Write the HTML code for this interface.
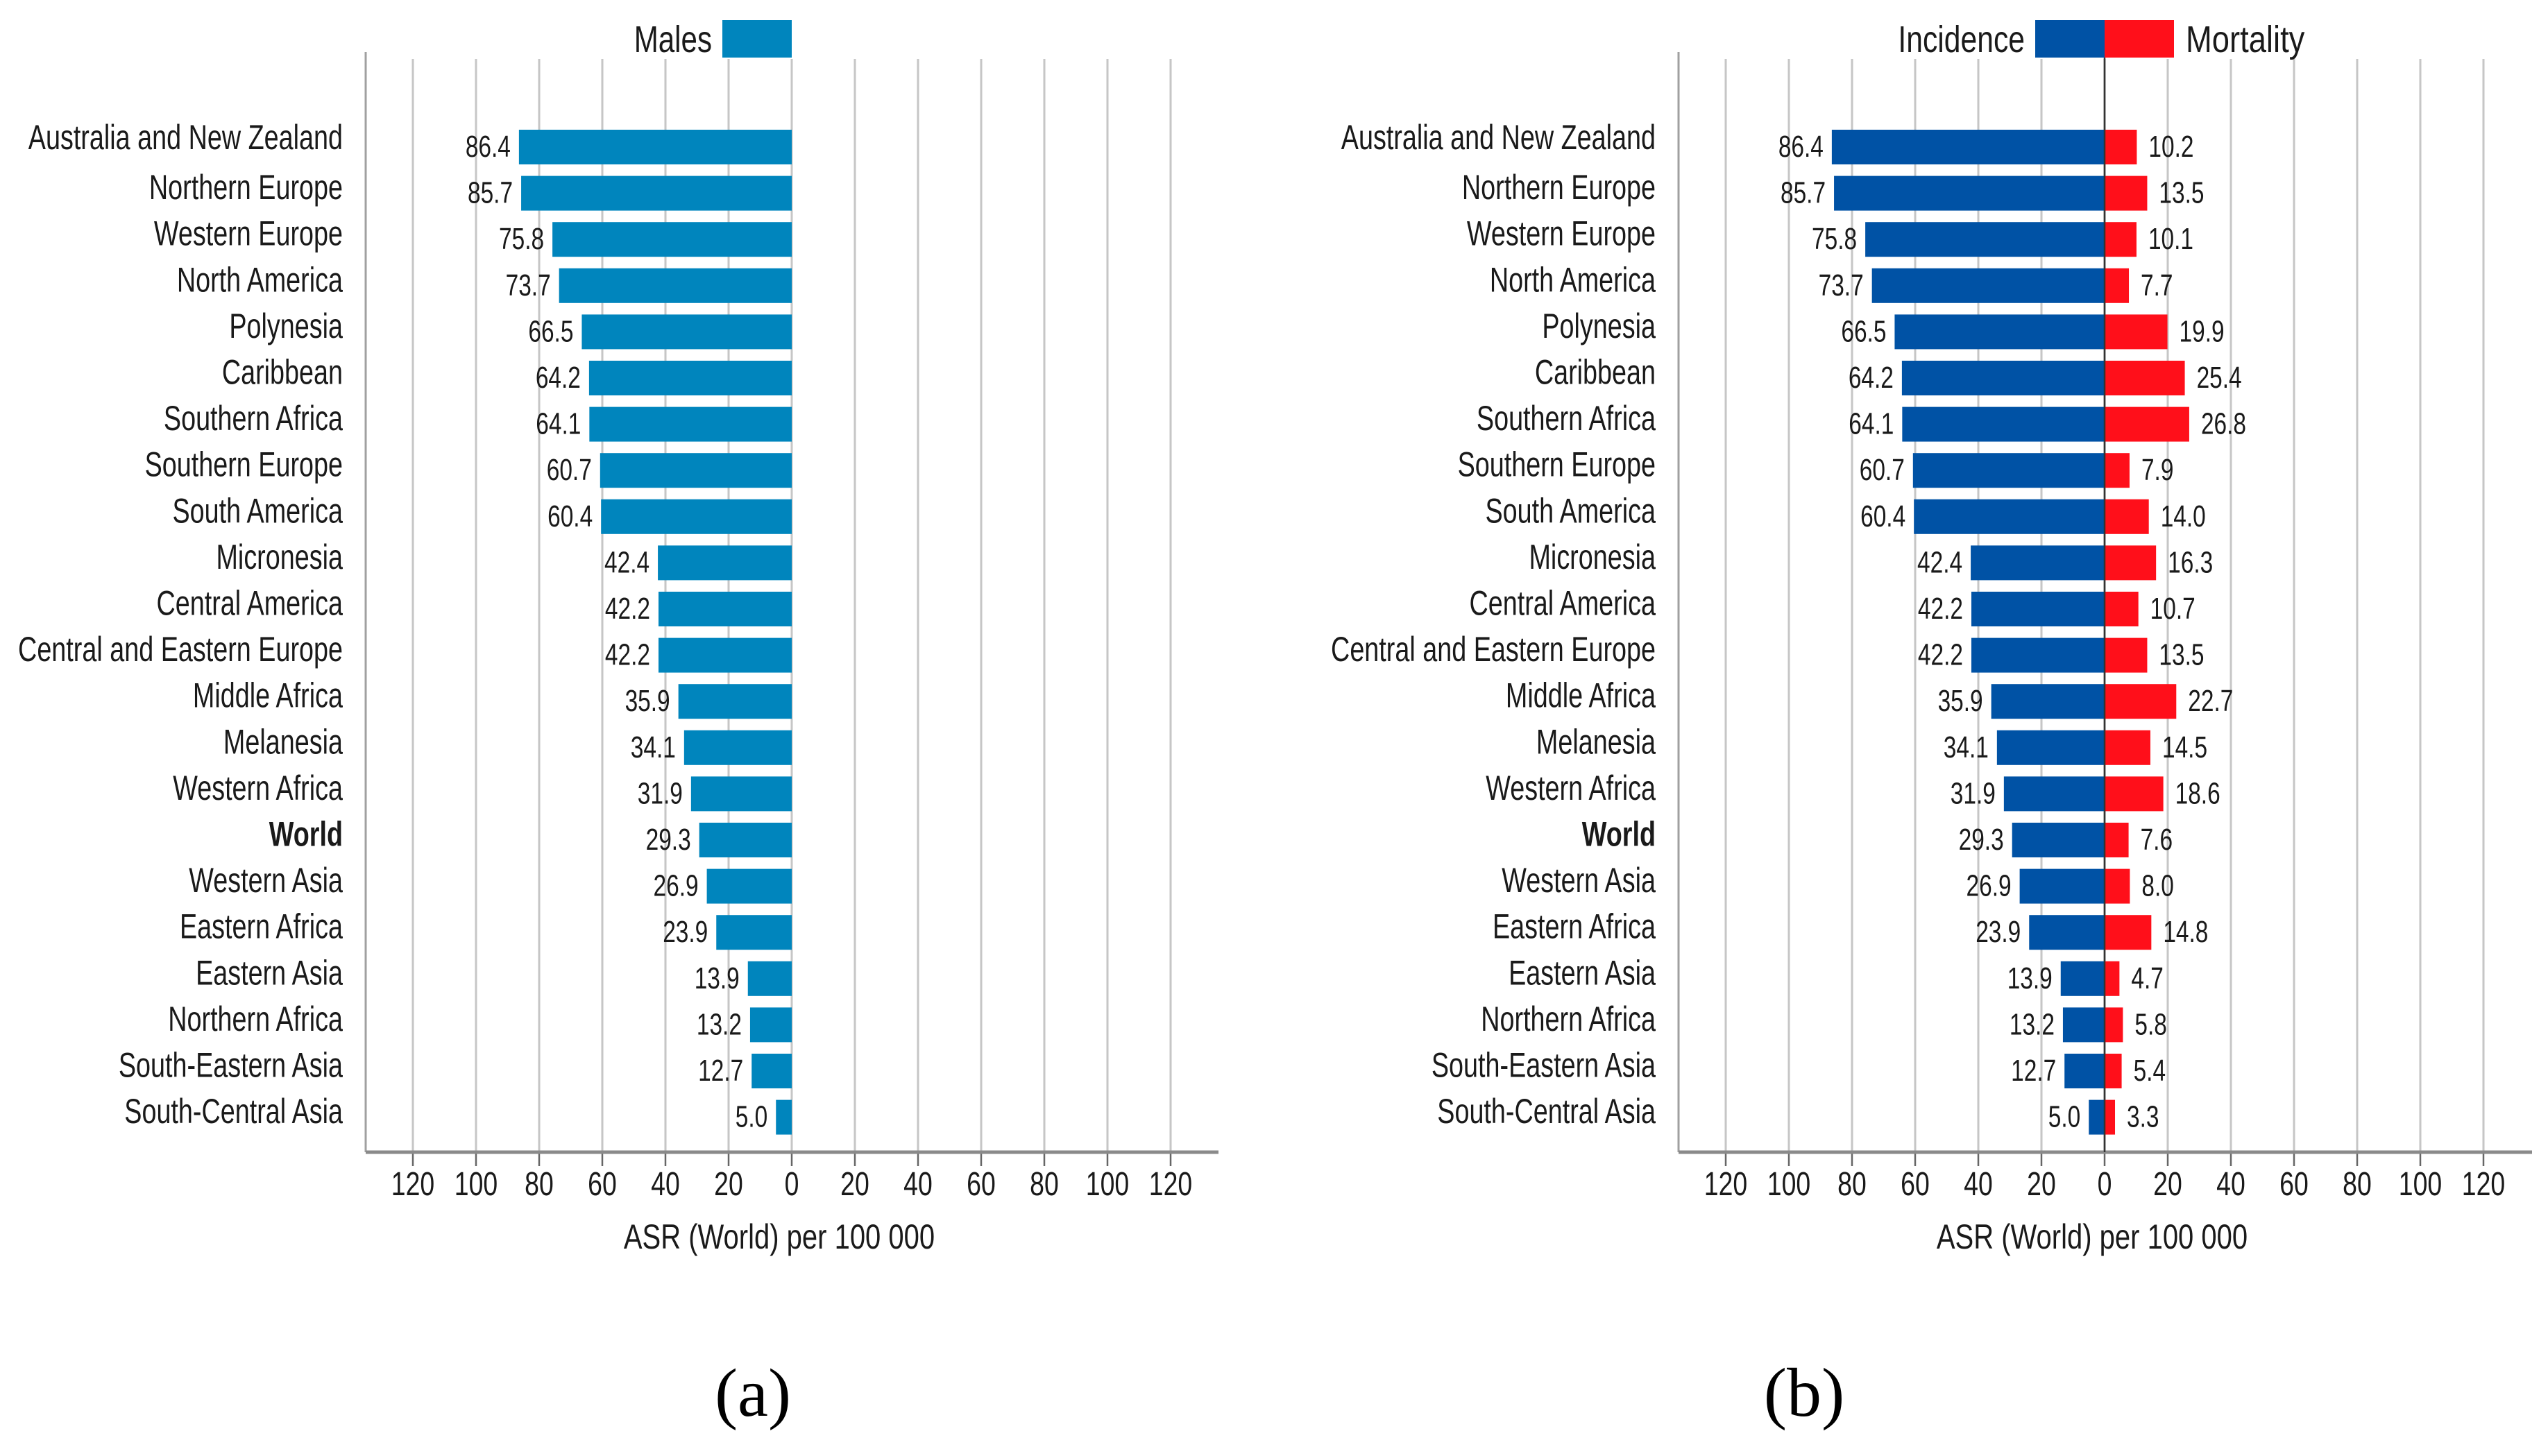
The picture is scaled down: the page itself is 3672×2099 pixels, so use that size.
<!DOCTYPE html>
<html lang="en">
<head>
<meta charset="utf-8">
<title>Age-standardized rates by region</title>
<style>
html,body{margin:0;padding:0;background:#fff;width:3672px;height:2099px;overflow:hidden}
svg{display:block}
text{font-family:"Liberation Sans",sans-serif;fill:#1a1a1a}
</style>
</head>
<body>
<svg id="figure" xmlns="http://www.w3.org/2000/svg" width="3672" height="2099" viewBox="0 0 3672 2099">
<rect x="0" y="0" width="3672" height="2099" fill="#ffffff"/>
<g id="panel-a"></g>
<g id="panel-b"></g>
</svg>
<script>
const categories = ["Australia and New Zealand","Northern Europe","Western Europe","North America","Polynesia","Caribbean","Southern Africa","Southern Europe","South America","Micronesia","Central America","Central and Eastern Europe","Middle Africa","Melanesia","Western Africa","World","Western Asia","Eastern Africa","Eastern Asia","Northern Africa","South-Eastern Asia","South-Central Asia"];
const malesValues = [86.4,85.7,75.8,73.7,66.5,64.2,64.1,60.7,60.4,42.4,42.2,42.2,35.9,34.1,31.9,29.3,26.9,23.9,13.9,13.2,12.7,5.0];
const incidenceValues = [86.4,85.7,75.8,73.7,66.5,64.2,64.1,60.7,60.4,42.4,42.2,42.2,35.9,34.1,31.9,29.3,26.9,23.9,13.9,13.2,12.7,5.0];
const mortalityValues = [10.2,13.5,10.1,7.7,19.9,25.4,26.8,7.9,14.0,16.3,10.7,13.5,22.7,14.5,18.6,7.6,8.0,14.8,4.7,5.8,5.4,3.3];
const tickValues = [120,100,80,60,40,20,0,20,40,60,80,100,120];
const tickSides = [-1,-1,-1,-1,-1,-1,0,1,1,1,1,1,1];
const xAxisTitle = "ASR (World) per 100 000";

const NS = "http://www.w3.org/2000/svg";
const UNIT = 4.55;
const ROW_H = 66.6;
const FIRST_Y = 212;
const BAR_H = 50;
const AXIS_Y = 1661;
const COLOR_MALES = "#0085bd";
const COLOR_INC = "#0052a5";
const COLOR_MORT = "#ff0f1a";

function rowY(i){ return FIRST_Y + ROW_H * i; }

function el(parent, tag){
  const n = document.createElementNS(NS, tag);
  parent.appendChild(n);
  return n;
}
function line(parent, x1, y1, x2, y2, stroke, w){
  const n = el(parent, "line");
  n.setAttribute("x1", x1);
  n.setAttribute("y1", y1);
  n.setAttribute("x2", x2);
  n.setAttribute("y2", y2);
  n.setAttribute("stroke", stroke);
  n.setAttribute("stroke-width", w);
  return n;
}
function rect(parent, x, y, w, h, fill){
  const n = el(parent, "rect");
  n.setAttribute("x", x);
  n.setAttribute("y", y);
  n.setAttribute("width", w);
  n.setAttribute("height", h);
  n.setAttribute("fill", fill);
  return n;
}
function label(parent, str, x, y, size, anchor, sx){
  const n = el(parent, "text");
  n.textContent = str;
  n.setAttribute("transform", "translate(" + x + "," + y + ") scale(" + sx + ",1)");
  n.setAttribute("font-size", size);
  n.setAttribute("text-anchor", anchor);
  return n;
}

function drawFrame(g, zero, leftX, rightX, zeroDark){
  tickValues.forEach(function(v, i){
    const x = zero + tickSides[i] * v * UNIT;
    const isZero = tickSides[i] === 0;
    const grid = line(g, x, 85, x, AXIS_Y, (isZero && zeroDark) ? "#333333" : "#c6c6c6", (isZero && zeroDark) ? 2.5 : 3);
    
    
    const tick = line(g, x, AXIS_Y, x, AXIS_Y + 20, "#666666", 2.5);
    
    
    const t = label(g, String(v), x, 1723, 48, "middle", 0.78);
    
    
  });
  const yAxis = line(g, leftX, 75, leftX, AXIS_Y, "#a0a0a0", 3);
  
  
  const xAxis = line(g, leftX, AXIS_Y, rightX, AXIS_Y, "#8a8a8a", 5);
  
  
  const title = label(g, xAxisTitle, zero - 18, 1800, 50, "middle", 0.8);
  
  
}

function drawCategories(g, rightEdge){
  categories.forEach(function(c, i){
    const off = i === 0 ? 3 : 8.5;
    const t = label(g, c, rightEdge, rowY(i) + off, 50, "end", 0.755);
    if (c === "World") { t.setAttribute("font-weight", "bold"); }
    
    
  });
}

/* Panel (a) */
(function(){
  const g = document.getElementById("panel-a");
  const zero = 1141;
  drawFrame(g, zero, 527, 1756, false);
  drawCategories(g, 494);
  malesValues.forEach(function(v, i){
    const w = v * UNIT;
    const b = rect(g, zero - w, rowY(i) - BAR_H / 2, w, BAR_H, COLOR_MALES);
    
    
    const t = label(g, v.toFixed(1), zero - w - 12, rowY(i) + 14, 44, "end", 0.76);
    
    
  });
  const sw = rect(g, 1041, 29, 100, 54, COLOR_MALES);
  
  
  const lt = label(g, "Males", 1026, 75, 54, "end", 0.78);
  
  
  const cap = label(g, "(a)", 1085, 2041, 99, "middle", 1);
  cap.setAttribute("style", "font-family:'Liberation Serif',serif;fill:#000");
  
  
})();

/* Panel (b) */
(function(){
  const g = document.getElementById("panel-b");
  const zero = 3033;
  drawFrame(g, zero, 2419, 3649, true);
  drawCategories(g, 2386);
  incidenceValues.forEach(function(v, i){
    const w = v * UNIT;
    const b = rect(g, zero - w, rowY(i) - BAR_H / 2, w, BAR_H, COLOR_INC);
    
    
    const t = label(g, v.toFixed(1), zero - w - 12, rowY(i) + 14, 44, "end", 0.76);
    
    
  });
  mortalityValues.forEach(function(v, i){
    const w = v * UNIT;
    const b = rect(g, zero, rowY(i) - BAR_H / 2, w, BAR_H, COLOR_MORT);
    
    
    const t = label(g, v.toFixed(1), zero + w + 17, rowY(i) + 14, 44, "start", 0.76);
    
    
  });
  const axisZero = line(g, zero, 29, zero, AXIS_Y, "#333333", 2.5);
  
  
  const sw1 = rect(g, 2933, 29, 100, 54, COLOR_INC);
  
  
  const sw2 = rect(g, 3033, 29, 100, 54, COLOR_MORT);
  
  
  const lt1 = label(g, "Incidence", 2918, 75, 54, "end", 0.79);
  
  
  const lt2 = label(g, "Mortality", 3150, 75, 54, "start", 0.84);
  
  
  const cap = label(g, "(b)", 2600, 2041, 100, "middle", 1);
  cap.setAttribute("style", "font-family:'Liberation Serif',serif;fill:#000");
  
  
})();
</script>
</body>
</html>
